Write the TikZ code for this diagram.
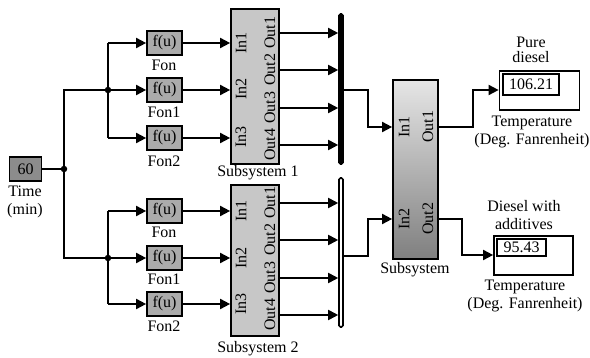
\documentclass[tikz,border=0pt]{standalone}
\usepackage{fontspec}
\setmainfont{Liberation Serif}
\usetikzlibrary{arrows.meta,positioning,calc}

\tikzset{
    wire/.style={line width=1.8pt},
    sig/.style={wire,-{Triangle[length=10pt,width=10pt]}},
    block/.style={draw,line width=1.7pt,inner sep=0pt},
    fcn/.style={block,fill=black!33,minimum width=35pt,minimum height=24pt},
    sub/.style={block,fill=black!22,minimum width=48pt,minimum height=153pt},
    mux/.style={draw,line width=1.6pt,rounded corners=1.5pt,minimum width=4pt,inner sep=0pt},
    txt/.style={inner sep=0pt,align=center,font=\fontsize{16}{18}\selectfont},
    port/.style={txt,rotate=90},
    dot/.style={circle,fill,inner sep=0pt,minimum size=6.5pt},
}

\begin{document}
\begin{tikzpicture}[x=1pt,y=-1pt]
    \useasboundingbox (0,0) rectangle (590,358);

    % source
    \node[block,fill=black!45,minimum width=32pt,minimum height=24pt,txt] (time) at (25.5,169) {60};
    \node[txt] (timelabel) at (25,202) {Time\\(min)};
    \node[dot] (split) at (64,169) {};

    % first and second branch
    \foreach \r/\n/\y/\ly in {A/Fon/43/65, B/Fon1/90/112, C/Fon2/138/161, D/Fon/211/232, E/Fon1/258/279, F/Fon2/304/326} {
        \node[fcn,txt] (f\r) at (164.5,\y) {f(u)};
        \node[txt] (l\r) at (164,\ly) {\n};
    }
    \node[dot] (jup) at (108,90) {};
    \node[dot] (jlow) at (108,258) {};

    \node[sub,minimum height=155pt] (subup) at (255,86.5) {};
    \node[sub,minimum height=151pt] (sublow) at (255,260.5) {};
    \node[txt] (subuplabel) at (258,173) {Subsystem 1};
    \node[txt] (sublowlabel) at (258,349) {Subsystem 2};

    % ports of the two subsystems
    \foreach \r/\n/\y in {A/1/43, B/2/89, C/3/137} {
        \node[port] (i\r) at (241,\y) {In\n};
    }
    \foreach \r/\n/\y in {D/1/211, E/2/258, F/3/304} {
        \node[port] (i\r) at (241,\y) {In\n};
    }
    \foreach \n/\y in {1/33, 2/70, 3/108, 4/145} {
        \node[port] (ou\n) at (270,\y) {Out\n};
    }
    \foreach \n/\y in {1/203, 2/240, 3/278, 4/315} {
        \node[port] (ol\n) at (270,\y) {Out\n};
    }

    \node[mux,fill=black,minimum height=150pt] (muxup) at (341,89) {};
    \node[mux,fill=white,minimum height=149pt] (muxlow) at (341,252.5) {};

    % last subsystem
    \node[block,top color=black!10,bottom color=black!50,minimum width=45pt,minimum height=179pt] (subout) at (415.5,169.5) {};
    \node[port] (in1) at (404,127) {In1};
    \node[port] (out1) at (428,127) {Out1};
    \node[port] (in2) at (404,219) {In2};
    \node[port] (out2) at (428,219) {Out2};
    \node[txt] (suboutlabel) at (415,270) {Subsystem};

    % displays
    \node[block,fill=white,minimum width=80pt,minimum height=39pt] (dispup) at (539.5,90.5) {};
    \node[block,minimum width=56pt,minimum height=21pt,txt] (valup) at (531,84.5) {106.21};
    \node[block,fill=white,minimum width=79pt,minimum height=39pt] (displow) at (533.5,255.5) {};
    \node[block,minimum width=49pt,minimum height=17pt,txt] (vallow) at (521.5,247.5) {95.43};

    \node[txt,font=\fontsize{16}{15}\selectfont] (pure) at (531,50) {Pure\\diesel};
    \node[txt] (tempup) at (532,132) {Temperature\\(Deg. Fanrenheit)};
    \node[txt] (additive) at (524,215) {Diesel with\\additives};
    \node[txt] (templow) at (525,296) {Temperature\\(Deg. Fanrenheit)};

    % connectors
    \draw[wire] (time) -- (split);
    \draw[wire] (jup) -| (split) |- (jlow);
    \draw[wire] (fA.west -| jup) -- (jup) -- (fC.west -| jup);
    \draw[wire] (fD.west -| jlow) -- (jlow) -- (fF.west -| jlow);
    \draw[sig] (fA.west -| jup) -- (fA);
    \draw[sig] (jup) -- (fB);
    \draw[sig] (fC.west -| jup) -- (fC);
    \draw[sig] (fD.west -| jlow) -- (fD);
    \draw[sig] (jlow) -- (fE);
    \draw[sig] (fF.west -| jlow) -- (fF);

    \foreach \r in {A,B,C} {
        \draw[sig] (f\r) -- (f\r -| subup.west);
    }
    \foreach \r in {D,E,F} {
        \draw[sig] (f\r) -- (f\r -| sublow.west);
    }
    \foreach \n in {1,2,3,4} {
        \draw[sig] (ou\n -| subup.east) -- (ou\n -| muxup.west);
        \draw[sig] (ol\n -| sublow.east) -- (ol\n -| muxlow.west);
    }

    \coordinate (muxupout) at (muxup.east |- jup);
    \coordinate (muxlowout) at (muxlow.east |- 0,256);
    \draw[sig] (muxupout) -- (368,90) |- (in1 -| subout.west);
    \draw[sig] (muxlowout) -- (368,256) |- (in2 -| subout.west);
    \draw[sig] (out1 -| subout.east) -- (473,127) |- (dispup.west |- 0,90);
    \draw[sig] (out2 -| subout.east) -- (462,219) |- (displow.west |- 0,255);
\end{tikzpicture}
\end{document}
